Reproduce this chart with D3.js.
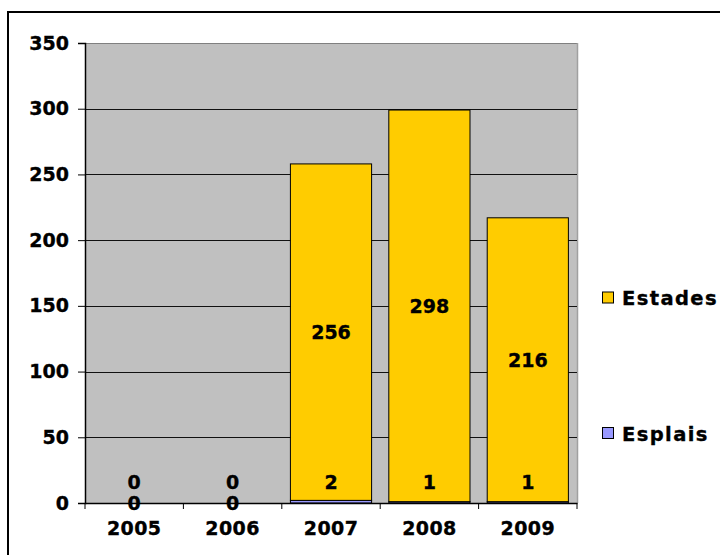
<!DOCTYPE html>
<html>
<head>
<meta charset="utf-8">
<script src="https://cdn.jsdelivr.net/npm/d3@7"></script>
<style>
  html, body { margin: 0; padding: 0; background: #fff; }
  svg { display: block; }
  text { font-family: "DejaVu Sans", Verdana, sans-serif; font-weight: bold; fill: #000; stroke: #000; stroke-width: 0.35px; }
</style>
</head>
<body>
<svg id="chart" width="720" height="555"></svg>
<script>
const categories = ["2005", "2006", "2007", "2008", "2009"];
const esplais = [0, 0, 2, 1, 1];
const estades = [0, 0, 256, 298, 216];
const yTicks = [0, 50, 100, 150, 200, 250, 300, 350];
const seriesNames = ["Estades", "Esplais"];
const seriesColors = { Esplais: "#9999FF", Estades: "#FFCC00" };

const svg = d3.select("#chart");
const plot = { left: 85, top: 43, right: 577, bottom: 503 };

// outer chart border
svg.append("rect").attr("x", 8).attr("y", 12).attr("width", 800).attr("height", 700)
  .attr("fill", "#fff").attr("stroke", "#000").attr("stroke-width", 2);

const x = d3.scaleBand().domain(categories).range([plot.left, plot.right]).paddingInner(0.175).paddingOuter(0.0875);
const xTickScale = d3.scaleBand().domain(categories).range([plot.left, plot.right]);
const y = d3.scaleLinear().domain([0, 350]).range([plot.bottom, plot.top]);

// plot area
svg.append("rect").attr("x", plot.left).attr("y", plot.top)
  .attr("width", plot.right - plot.left).attr("height", plot.bottom - plot.top)
  .attr("fill", "#C0C0C0");
svg.append("line").attr("x1", plot.left).attr("x2", plot.right).attr("y1", plot.top + 0.5).attr("y2", plot.top + 0.5)
  .attr("stroke", "#808080").attr("stroke-width", 1);
svg.append("line").attr("x1", plot.right + 0.5).attr("x2", plot.right + 0.5).attr("y1", plot.top).attr("y2", plot.bottom)
  .attr("stroke", "#A0A0A0").attr("stroke-width", 1.5);

// gridlines
svg.append("g").selectAll("line").data(yTicks.filter(d => d > 0 && d < 350)).join("line")
  .attr("x1", plot.left).attr("x2", plot.right)
  .attr("y1", d => Math.round(y(d)) + 0.5).attr("y2", d => Math.round(y(d)) + 0.5)
  .attr("stroke", "#111").attr("stroke-width", 1);

// stacked data
const rows = categories.map((c, i) => ({ cat: c, Esplais: esplais[i], Estades: estades[i] }));
const stack = d3.stack().keys(["Esplais", "Estades"])(rows);

svg.append("g").selectAll("g").data(stack).join("g")
  .attr("fill", d => seriesColors[d.key])
  .selectAll("rect").data(d => d.filter(p => p[1] - p[0] > 0)).join("rect")
  .attr("x", d => x(d.data.cat))
  .attr("y", d => y(d[1]))
  .attr("width", x.bandwidth())
  .attr("height", d => y(d[0]) - y(d[1]))
  .attr("stroke", "#000").attr("stroke-width", 1);

// y axis
const yAxis = d3.axisLeft(y).tickValues(yTicks).tickSize(7).tickPadding(9);
const gy = svg.append("g").attr("transform", `translate(${plot.left},0)`).call(yAxis);
gy.select(".domain").attr("stroke", "#000").attr("stroke-width", 1.5);
gy.selectAll(".tick line").attr("stroke", "#000");
gy.selectAll("text").attr("font-size", 19).attr("font-family", "DejaVu Sans").attr("font-weight", "bold").attr("fill", "#000");

// x axis
const xAxis = d3.axisBottom(xTickScale).tickSize(0).tickPadding(19);
const gx = svg.append("g").attr("transform", `translate(0,${plot.bottom})`).call(xAxis);
gx.select(".domain").attr("stroke", "#000").attr("stroke-width", 1.5);
gx.selectAll("text").attr("font-size", 19).attr("font-family", "DejaVu Sans").attr("font-weight", "bold").attr("fill", "#000")
  .attr("letter-spacing", 0.4);
// category separator ticks
gx.append("g").selectAll("line").data(categories.concat(["_end"])).join("line")
  .attr("x1", (d, i) => plot.left + i * xTickScale.step())
  .attr("x2", (d, i) => plot.left + i * xTickScale.step())
  .attr("y1", 0).attr("y2", 6).attr("stroke", "#000").attr("stroke-width", 1);

// data labels
const labels = svg.append("g");
stack.forEach(s => {
  s.forEach(d => {
    const cx = x(d.data.cat) + x.bandwidth() / 2;
    const cy = s.key === "Esplais" ? y(0) - 21 : (y(d[0]) + y(d[1])) / 2;
    labels.append("text").attr("x", cx).attr("y", cy)
      .attr("text-anchor", "middle").attr("dy", "0.36em")
      .attr("font-size", 19)
      .text(d[1] - d[0]);
  });
});

// legend
const legendY = { Estades: 298, Esplais: 433.5 };
const lg = svg.append("g");
seriesNames.forEach(n => {
  lg.append("rect").attr("x", 602.5).attr("y", legendY[n] - 6).attr("width", 11).attr("height", 11)
    .attr("fill", seriesColors[n]).attr("stroke", "#000").attr("stroke-width", 1);
  lg.append("text").attr("x", 622).attr("y", legendY[n]).attr("dy", "0.36em")
    .attr("font-size", 19.5).attr("letter-spacing", 1.4).text(n);
});
</script>
</body>
</html>
